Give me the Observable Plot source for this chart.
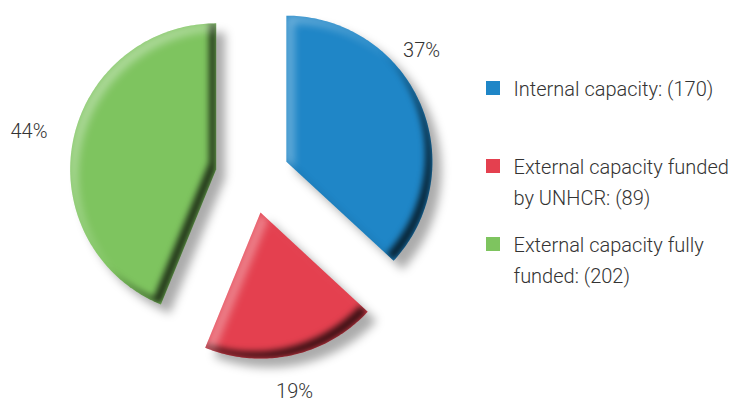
<!DOCTYPE html>
<html>
<head>
<meta charset="utf-8">
<script src="https://cdn.jsdelivr.net/npm/d3@7"></script>
<script src="https://cdn.jsdelivr.net/npm/@observablehq/plot@0.6"></script>
<style>
  html, body { margin: 0; padding: 0; background: #fff; }
  #chart { width: 731px; height: 403px; }
</style>
</head>
<body>
<div id="chart"></div>
<script>
// ---- data ----
const categories = ["Internal capacity", "External capacity funded by UNHCR", "External capacity fully funded"];
const values = [170, 89, 202];
const percentLabels = ["37%", "19%", "44%"];
const legendLabels = ["Internal capacity: (170)", "External capacity funded\nby UNHCR: (89)", "External capacity fully\nfunded: (202)"];

// ---- style / layout ----
const palette = ["#1f86c7", "#e4404f", "#7ec45f"];
const W = 731, H = 403;
const cx = 252, cy = 176, R = 146, D = 37;
const labelTurn = [-0.276, 0.03, 0.005];   // radians, label placement tweak
const labelRadius = [175, 182, 191];
const font = "Roboto, 'Open Sans', sans-serif";

const arcs = d3.pie().sort(null).value(d => d)(values);
const pts = [];
const labels = [];
arcs.forEach((p, i) => {
  const k = categories[i];
  const mid = (p.startAngle + p.endAngle) / 2;
  const ax = cx + D * Math.sin(mid), ay = cy - D * Math.cos(mid);
  pts.push({k, x: ax, y: ay});
  const n = Math.ceil((p.endAngle - p.startAngle) / (Math.PI / 180));
  for (let j = 0; j <= n; j++) {
    const a = p.startAngle + (p.endAngle - p.startAngle) * j / n;
    pts.push({k, x: ax + R * Math.sin(a), y: ay - R * Math.cos(a)});
  }
  const la = mid + labelTurn[i];
  labels.push({k, text: percentLabels[i], x: ax + labelRadius[i] * Math.sin(la), y: ay - labelRadius[i] * Math.cos(la)});
});

const legendTop = 88, legendStep = 78, legendX = 486;
const legend = categories.map((k, i) => ({k, label: legendLabels[i], cy: legendTop + i * legendStep}));

const chart = Plot.plot({
  width: W, height: H, margin: 0,
  x: {domain: [0, W], range: [0, W], axis: null},
  y: {domain: [0, H], range: [0, H], axis: null},
  color: {domain: categories, range: palette},
  style: {background: "#fff"},
  marks: [
    Plot.line(pts, {x: "x", y: "y", z: "k", fill: "k", stroke: "none", curve: "linear-closed"}),
    Plot.text(labels, {x: "x", y: "y", text: "text", fill: "#333", fontSize: 20, fontWeight: 300, fontFamily: font}),
    Plot.rect(legend, {x1: () => legendX, x2: () => legendX + 14, y1: d => d.cy - 7, y2: d => d.cy + 7, fill: "k"}),
    Plot.text(legend, {x: () => legendX + 27, y: d => d.cy - 15, text: "label", textAnchor: "start", lineAnchor: "top", lineHeight: 1.55, fill: "#333", fontSize: 20, fontWeight: 300, fontFamily: font})
  ]
});

// 3D bevel + drop shadow effect
const ns = "http://www.w3.org/2000/svg";
const defs = document.createElementNS(ns, "defs");
defs.innerHTML = `
<filter id="bevel" x="-20%" y="-20%" width="150%" height="150%" color-interpolation-filters="sRGB">
  <feGaussianBlur in="SourceAlpha" stdDeviation="5" result="sb"/>
  <feOffset in="sb" dx="9" dy="9" result="so"/>
  <feFlood flood-color="#000" flood-opacity="0.33"/>
  <feComposite in2="so" operator="in" result="shadow"/>
  <feOffset in="SourceAlpha" dx="-7" dy="-7" result="shiftA"/>
  <feComposite in="SourceAlpha" in2="shiftA" operator="out" result="edgeBR"/>
  <feGaussianBlur in="edgeBR" stdDeviation="3" result="edgeBRb"/>
  <feComposite in="edgeBRb" in2="SourceAlpha" operator="in" result="edgeBRin"/>
  <feFlood flood-color="#000" flood-opacity="0.75"/>
  <feComposite in2="edgeBRin" operator="in" result="darkEdge"/>
  <feOffset in="SourceAlpha" dx="7" dy="7" result="shiftB"/>
  <feComposite in="SourceAlpha" in2="shiftB" operator="out" result="edgeTL"/>
  <feGaussianBlur in="edgeTL" stdDeviation="4" result="edgeTLb"/>
  <feComposite in="edgeTLb" in2="SourceAlpha" operator="in" result="edgeTLin"/>
  <feFlood flood-color="#fff" flood-opacity="0.4"/>
  <feComposite in2="edgeTLin" operator="in" result="lightEdge"/>
  <feMerge>
    <feMergeNode in="shadow"/>
    <feMergeNode in="SourceGraphic"/>
    <feMergeNode in="darkEdge"/>
    <feMergeNode in="lightEdge"/>
  </feMerge>
</filter>`;
chart.insertBefore(defs, chart.firstChild);
chart.querySelectorAll('g[aria-label="line"] path').forEach(p => p.setAttribute("filter", "url(#bevel)"));

document.getElementById("chart").appendChild(chart);
</script>
</body>
</html>
